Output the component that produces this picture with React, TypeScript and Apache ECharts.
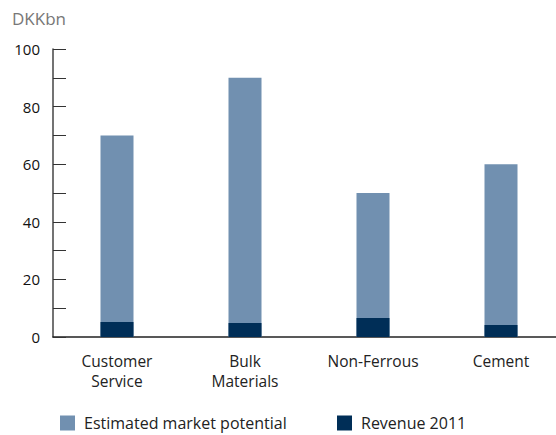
import React, { useEffect, useRef } from "react";
import * as echarts from "echarts";

const categories = ["Customer\nService", "Bulk\nMaterials", "Non-Ferrous", "Cement"];
const marketPotential = [70, 90, 50, 60];
const revenue2011 = [5.2, 4.9, 6.6, 4.2];
const yTicks = { min: 0, max: 100, interval: 10 };

const FONT = "'Open Sans', 'Noto Sans', sans-serif";

export default function App() {
  const ref = useRef<HTMLDivElement>(null);
  useEffect(() => {
    if (!ref.current) return;
    const chart = echarts.init(ref.current, null, { renderer: "svg" });
    const legendText = {
      fontSize: 16,
      lineHeight: 18,
      color: "#222222",
      fontFamily: FONT,
      padding: [0, 0, 0, 4],
    };
    chart.setOption({
      animation: false,
      backgroundColor: "#ffffff",
      textStyle: { fontFamily: FONT },
      grid: { left: 53, top: 49, height: 288, width: 512 },
      graphic: [
        {
          type: "text",
          left: 12,
          top: 10,
          style: { text: "DKKbn", fill: "#777777", font: `17px ${FONT}` },
        },
      ],
      legend: [
        {
          data: ["Estimated market potential"],
          left: 60,
          top: 414,
          padding: 0,
          itemWidth: 15,
          itemHeight: 15,
          icon: "rect",
          textStyle: legendText,
          selectedMode: false,
        },
        {
          data: ["Revenue 2011"],
          left: 337,
          top: 414,
          padding: 0,
          itemWidth: 15,
          itemHeight: 15,
          icon: "rect",
          textStyle: legendText,
          selectedMode: false,
        },
      ],
      xAxis: {
        type: "category",
        data: categories,
        axisLine: { lineStyle: { color: "#222222", width: 1.5 } },
        axisTick: { inside: true, length: 7, lineStyle: { color: "#555555" } },
        axisLabel: {
          fontSize: 15.5,
          color: "#222222",
          lineHeight: 20,
          margin: 14,
          fontFamily: FONT,
        },
      },
      yAxis: {
        type: "value",
        min: yTicks.min,
        max: yTicks.max,
        interval: yTicks.interval,
        splitLine: { show: false },
        axisLine: { show: true, lineStyle: { color: "#444444", width: 1.5 } },
        axisTick: { show: true, inside: true, length: 13, lineStyle: { color: "#333333" } },
        axisLabel: {
          fontSize: 15,
          color: "#111111",
          margin: 13,
          fontFamily: FONT,
          formatter: (v: number) => (v % 20 === 0 ? String(v) : ""),
        },
      },
      series: [
        {
          name: "Estimated market potential",
          type: "bar",
          data: marketPotential,
          barWidth: 33,
          barGap: "-100%",
          itemStyle: { color: "#7190B0" },
        },
        {
          name: "Revenue 2011",
          type: "bar",
          data: revenue2011,
          barWidth: 33,
          barGap: "-100%",
          itemStyle: { color: "#002E57" },
        },
      ],
    });
    return () => chart.dispose();
  }, []);
  return (
    <div style={{ position: "absolute", left: 0, top: 0, width: 556, height: 435, overflow: "hidden" }}>
      <div ref={ref} style={{ width: 566, height: 435 }} />
    </div>
  );
}
